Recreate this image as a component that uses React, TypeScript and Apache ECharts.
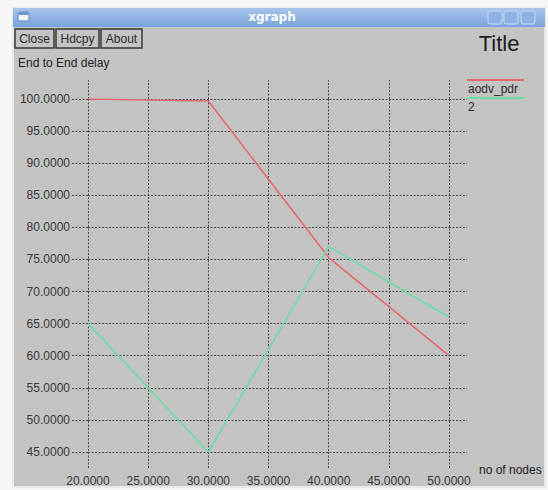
import React, { useEffect, useRef } from "react";
import * as echarts from "echarts";

// ---- data ----
const xValues = [20, 30, 40, 50];
const aodvPdr = [100, 99.7, 75.3, 60];
const series2 = [65, 45, 77, 66];
const seriesNames = ["aodv_pdr", "2"];
const seriesColors = ["#e4696f", "#6ddca6"];
const buttonLabels = ["Close", "Hdcpy", "About"];
const titleText = "Title";
const yAxisTitle = "End to End delay";
const xAxisTitle = "no of nodes";
const windowTitle = "xgraph";

const FONT = "'Liberation Sans', Arial, sans-serif";
const GRID_COLOR = "#4a4a4a";
const DASH = [2, 1.5];

export default function App() {
  const ref = useRef<HTMLDivElement>(null);

  useEffect(() => {
    document.body.style.margin = "0";
    document.body.style.background = "#f6f6f6";
    if (!ref.current) return;
    const chart = echarts.init(ref.current, undefined, { renderer: "svg" });

    const buttonBoxes = [
      { x: 15, w: 39 },
      { x: 56, w: 43 },
      { x: 101, w: 41 },
    ];

    const graphic: any[] = [
      {
        type: "rect",
        z: -100,
        silent: true,
        shape: { x: 13, y: 8, width: 532, height: 479 },
        style: { fill: "#c3c3c3", stroke: "#e8e8e8", lineWidth: 2 },
      },
      {
        type: "rect",
        z: -90,
        silent: true,
        shape: { x: 13, y: 8, width: 532, height: 19 },
        style: {
          fill: new echarts.graphic.LinearGradient(0, 0, 0, 1, [
            { offset: 0, color: "#a8c5ec" },
            { offset: 1, color: "#7aa3da" },
          ]),
        },
      },
      {
        type: "text",
        silent: true,
        style: {
          text: windowTitle,
          x: 272,
          y: 17,
          align: "center",
          verticalAlign: "middle",
          fill: "#ffffff",
          font: `bold 12px 'DejaVu Sans', sans-serif`,
        },
      },
      {
        type: "rect",
        silent: true,
        shape: { x: 18, y: 12, width: 11, height: 9, r: 2 },
        style: { fill: "#f4f8ff", stroke: "#5d86c4", lineWidth: 1 },
      },
      {
        type: "rect",
        silent: true,
        shape: { x: 18, y: 12, width: 11, height: 3, r: 1 },
        style: { fill: "#6f97d0" },
      },
      ...[488, 504, 521].map((bx) => ({
        type: "rect",
        silent: true,
        shape: { x: bx, y: 11, width: 14, height: 13, r: 2 },
        style: { fill: "#8db1e4", stroke: "#c9dbf5", lineWidth: 1 },
      })),
      ...buttonLabels.flatMap((label, i) => [
        {
          type: "rect",
          silent: true,
          shape: { x: buttonBoxes[i].x, y: 29, width: buttonBoxes[i].w, height: 19 },
          style: { fill: "#c3c3c3", stroke: "#3a3a3a", lineWidth: 1.5 },
        },
        {
          type: "text",
          silent: true,
          style: {
            text: label,
            x: buttonBoxes[i].x + buttonBoxes[i].w / 2,
            y: 39,
            align: "center",
            verticalAlign: "middle",
            fill: "#2a2a2a",
            font: `12px ${FONT}`,
          },
        },
      ]),
      {
        type: "text",
        silent: true,
        style: {
          text: titleText,
          x: 499,
          y: 43,
          align: "center",
          verticalAlign: "middle",
          fill: "#1e1e1e",
          font: `22px ${FONT}`,
        },
      },
      {
        type: "text",
        silent: true,
        style: {
          text: yAxisTitle,
          x: 18,
          y: 63,
          align: "left",
          verticalAlign: "middle",
          fill: "#222",
          font: `12px ${FONT}`,
        },
      },
      {
        type: "text",
        silent: true,
        style: {
          text: xAxisTitle,
          x: 479,
          y: 470,
          align: "left",
          verticalAlign: "middle",
          fill: "#222",
          font: `12px ${FONT}`,
        },
      },
      ...seriesNames.flatMap((name, i) => [
        {
          type: "line",
          silent: true,
          shape: { x1: 467, y1: 80 + i * 18, x2: 524, y2: 80 + i * 18 },
          style: { stroke: seriesColors[i], lineWidth: 2 },
        },
        {
          type: "text",
          silent: true,
          style: {
            text: name,
            x: 468,
            y: 89 + i * 18,
            align: "left",
            verticalAlign: "middle",
            fill: "#2a2a2a",
            font: `12px ${FONT}`,
          },
        },
      ]),
    ];

    const tickStyle = { color: GRID_COLOR, width: 1, type: DASH };

    chart.setOption({
      animation: false,
      backgroundColor: "transparent",
      textStyle: { fontFamily: FONT },
      grid: { left: 88, top: 99, width: 361, height: 353, containLabel: false },
      xAxis: [
        {
          type: "value",
          min: 20,
          max: 50,
          interval: 5,
          position: "bottom",
          axisLine: { show: false },
          axisTick: { show: true, length: 16, lineStyle: tickStyle },
          splitLine: { show: true, lineStyle: tickStyle },
          axisLabel: {
            margin: 23,
            color: "#383838",
            fontSize: 12,
            fontFamily: FONT,
            formatter: (v: number) => v.toFixed(4),
          },
        },
        {
          type: "value",
          min: 20,
          max: 50,
          interval: 5,
          position: "top",
          axisLine: { show: false },
          axisTick: { show: true, length: 19, lineStyle: tickStyle },
          splitLine: { show: false },
          axisLabel: { show: false },
        },
      ],
      yAxis: [
        {
          type: "value",
          min: 45,
          max: 100,
          interval: 5,
          position: "left",
          axisLine: { show: false },
          axisTick: { show: true, length: 16, lineStyle: tickStyle },
          splitLine: { show: true, lineStyle: tickStyle },
          axisLabel: {
            margin: 18,
            color: "#383838",
            fontSize: 12,
            fontFamily: FONT,
            formatter: (v: number) => v.toFixed(4),
          },
        },
        {
          type: "value",
          min: 45,
          max: 100,
          interval: 5,
          position: "right",
          axisLine: { show: false },
          axisTick: { show: true, length: 18, lineStyle: tickStyle },
          splitLine: { show: false },
          axisLabel: { show: false },
        },
      ],
      series: [
        {
          name: seriesNames[0],
          type: "line",
          data: xValues.map((x, i) => [x, aodvPdr[i]]),
          showSymbol: false,
          lineStyle: { color: seriesColors[0], width: 1.6 },
          z: 3,
        },
        {
          name: seriesNames[1],
          type: "line",
          data: xValues.map((x, i) => [x, series2[i]]),
          showSymbol: false,
          lineStyle: { color: seriesColors[1], width: 1.6 },
          z: 3,
        },
      ],
      graphic,
    });

    return () => chart.dispose();
  }, []);

  return (
    <div
      ref={ref}
      style={{ position: "absolute", left: 0, top: 0, width: 548, height: 490 }}
    />
  );
}
